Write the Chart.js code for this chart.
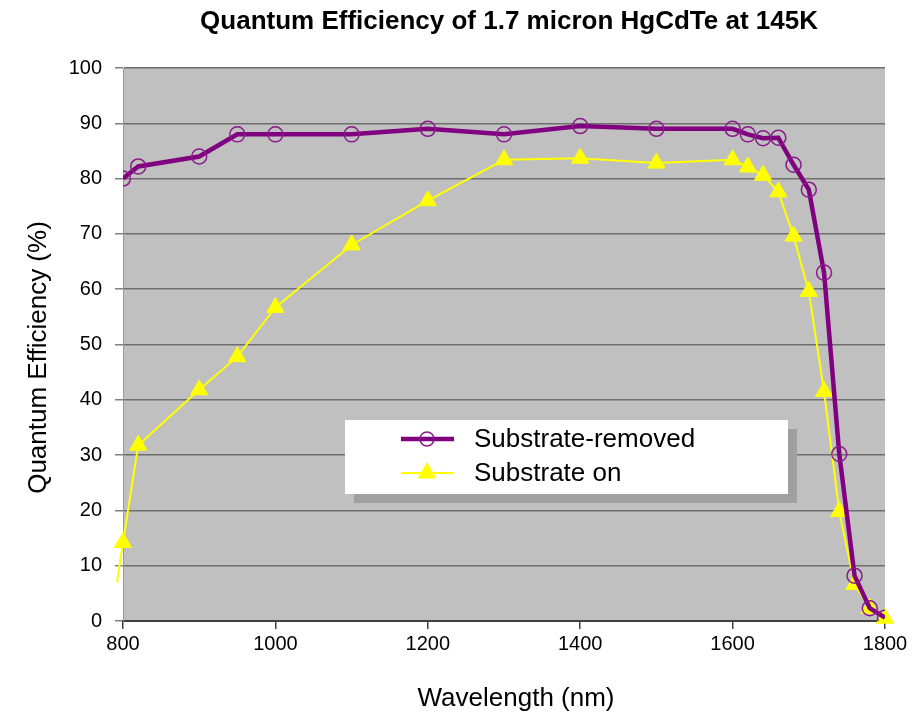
<!DOCTYPE html>
<html>
<head>
<meta charset="utf-8">
<script src="https://cdn.jsdelivr.net/npm/chart.js@4.4.1/dist/chart.umd.min.js"></script>
<style>
  html, body { margin: 0; padding: 0; background: #fff; }
  #wrap { width: 917px; height: 714px; position: relative; }
</style>
</head>
<body>
<div id="wrap"><canvas id="qeChart"></canvas></div>
<script>
// wavelength (nm) / QE (%)
let wl_removed = [800, 820, 900, 950, 1000, 1100, 1200, 1300, 1400, 1500, 1600, 1620, 1640, 1660, 1680, 1700, 1720, 1740, 1760, 1780, 1800];
let qe_removed = [80, 82.2, 84, 88, 88, 88, 89, 88, 89.5, 89, 89, 88, 87.3, 87.4, 82.5, 78, 63, 30.2, 8.2, 2.3, 0.6];
let wl_on = [792, 800, 820, 900, 950, 1000, 1100, 1200, 1300, 1400, 1500, 1600, 1620, 1640, 1660, 1680, 1700, 1720, 1740, 1760, 1780, 1800];
let qe_on = [7, 14.2, 31.8, 41.8, 47.8, 56.7, 68, 76, 83.4, 83.7, 82.8, 83.4, 82.1, 80.6, 77.6, 69.6, 59.6, 41.5, 19.8, 6.6, 2.3, 0.5];
let seriesNames = ['Substrate-removed', 'Substrate on'];
let titleText = 'Quantum Efficiency of 1.7 micron HgCdTe at 145K';
let xTitle = 'Wavelength (nm)';
let yTitle = 'Quantum Efficiency (%)';

const FONT = '"Liberation Sans", Arial, sans-serif';

// grey plot area, chart title and axis titles
const plotBg = {
    id: 'plotBg',
    beforeDraw(chart) {
        const ctx = chart.ctx, a = chart.chartArea;
        ctx.save();
        ctx.fillStyle = '#ffffff';
        ctx.fillRect(0, 0, chart.width, chart.height);
        ctx.fillStyle = '#c0c0c0';
        ctx.fillRect(a.left, a.top, a.right - a.left, a.bottom - a.top);
        ctx.fillStyle = '#000';
        ctx.textAlign = 'center';
        ctx.textBaseline = 'middle';
        ctx.font = 'bold 26px ' + FONT;
        ctx.fillText(titleText, (a.left + a.right) / 2 + 5, 22);
        ctx.font = '26px ' + FONT;
        ctx.fillText(xTitle, (a.left + a.right) / 2 + 12, 699);
        ctx.translate(39, (a.top + a.bottom) / 2 + 13);
        ctx.rotate(-Math.PI / 2);
        ctx.fillText(yTitle, 0, 0);
        ctx.restore();
    }
};

// white legend box with a shadow, inside the plot
const boxLegend = {
    id: 'boxLegend',
    afterDraw(chart) {
        const ctx = chart.ctx, a = chart.chartArea;
        const x = a.left + 222, y = a.top + 352, w = 443, h = 74;
        ctx.save();
        ctx.fillStyle = '#a0a0a0';
        ctx.fillRect(x + 9, y + 9, w, h);
        ctx.fillStyle = '#ffffff';
        ctx.fillRect(x, y, w, h);
        chart.data.datasets.forEach((ds, i) => {
            const ly = y + 19 + i * 34;
            ctx.strokeStyle = ds.borderColor;
            ctx.lineWidth = ds.borderWidth;
            ctx.beginPath();
            ctx.moveTo(x + 56, ly);
            ctx.lineTo(x + 109, ly);
            ctx.stroke();
            ctx.fillStyle = ds.pointBackgroundColor;
            ctx.strokeStyle = ds.pointBorderColor;
            ctx.lineWidth = ds.pointBorderWidth;
            let r = ds.pointStyle === 'triangle' ? 10 : 7;
            Chart.helpers.drawPoint(ctx, {pointStyle: ds.pointStyle, radius: r, borderWidth: ds.pointBorderWidth, rotation: 0}, x + 82, ly);
            ctx.fillStyle = '#000';
            ctx.font = '26px ' + FONT;
            ctx.textAlign = 'left';
            ctx.textBaseline = 'middle';
            ctx.fillText(ds.label, x + 129, ly + 1);
        });
        ctx.restore();
    }
};

let ctx_qe = document.getElementById('qeChart');
let config_qe = {
    type: 'line',
    data: {
        datasets: [{
            label: seriesNames[0],
            data: wl_removed.map((w, i) => ({x: w, y: qe_removed[i]})),
            borderColor: '#800080',
            borderWidth: 4.5,
            pointStyle: 'circle',
            pointRadius: 7.5,
            pointBackgroundColor: 'rgba(0,0,0,0)',
            pointBorderColor: '#8a1a8a',
            pointBorderWidth: 1.5,
            tension: 0,
        }, {
            label: seriesNames[1],
            data: wl_on.map((w, i) => ({x: w, y: qe_on[i]})),
            borderColor: '#ffff00',
            borderWidth: 2,
            pointStyle: 'triangle',
            pointRadius: wl_on.map(w => w < 800 ? 0 : 10),
            pointBackgroundColor: '#ffff00',
            pointBorderColor: '#ffff00',
            pointBorderWidth: 1,
            tension: 0,
            clip: false,
        }]
    },
    options: {
        responsive: true,
        maintainAspectRatio: false,
        animation: false,
        events: [],
        layout: { padding: { top: 68, left: 0, right: 32, bottom: 0 } },
        plugins: {
            legend: { display: false },
            title: { display: false },
            tooltip: { enabled: false },
        },
        scales: {
            x: {
                type: 'linear',
                min: 800,
                max: 1800,
                afterFit: s => { s.height = 93; },
                ticks: { stepSize: 200, color: '#000', padding: 3, font: { family: FONT, size: 20 }, callback: v => String(v) },
                grid: { drawOnChartArea: false, tickLength: 8, tickColor: '#404040', lineWidth: 1.5 },
                border: { color: '#404040', width: 2 },
            },
            y: {
                min: 0,
                max: 100,
                afterFit: s => { s.width = 123; },
                ticks: { stepSize: 10, color: '#000', padding: 13, font: { family: FONT, size: 20 } },
                grid: { color: '#6e6e6e', lineWidth: 1.5, tickLength: 8, tickColor: '#808080' },
                border: { color: '#999999', width: 1 },
            }
        }
    },
    plugins: [plotBg, boxLegend]
};
let chart_qe = new Chart(ctx_qe, config_qe);
</script>
</body>
</html>
